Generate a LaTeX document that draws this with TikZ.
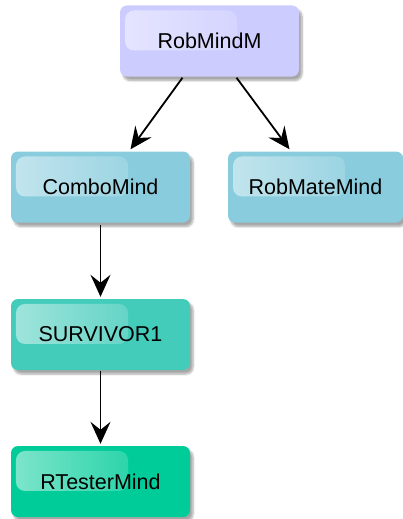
\documentclass[tikz,border=0pt]{standalone}
\usepackage{fontspec}
\setmainfont{Liberation Sans}
\usetikzlibrary{arrows.meta,shadows.blur,fadings}
\definecolor{lavender}{RGB}{204,204,255}
\definecolor{skyblue}{RGB}{136,204,221}
\definecolor{teal}{RGB}{68,204,187}
\definecolor{mint}{RGB}{0,204,153}
\tikzset{
  box/.style={rounded corners=7pt, minimum width=179pt, minimum height=71pt,
    inner sep=0pt, text=black, font=\fontsize{21.5}{25}\selectfont,
    blur shadow={shadow xshift=3pt, shadow yshift=-4pt, shadow blur steps=6, shadow opacity=35},
    path picture={\fill[white, fill opacity=0.5, rounded corners=9pt, path fading=east]
      ([xshift=5pt,yshift=-5pt]path picture bounding box.north west) rectangle ++(112pt,-40pt);}},
  link/.style={-{Stealth[length=22pt,width=20pt,inset=8pt]}, line width=1.8pt, black}
}
\begin{document}
\begin{tikzpicture}[x=1pt,y=-1pt]
\useasboundingbox (0,0) rectangle (403,519);
\node[box, fill=lavender] (rob) at (209.5,41) {RobMindM};
\node[box, fill=skyblue] (combo) at (100.5,187) {ComboMind};
\node[box, fill=skyblue, minimum width=175pt] (mate) at (315.5,187) {RobMateMind};
\node[box, fill=teal] (surv) at (100.5,334.5) {SURVIVOR1};
\node[box, fill=mint] (tester) at (100.5,481.5) {RTesterMind};
\draw[link] ([xshift=-27pt,yshift=-1pt]rob.south) -- ([xshift=30pt,yshift=2pt]combo.north);
\draw[link] ([xshift=27pt,yshift=-1pt]rob.south) -- ([xshift=-26pt,yshift=2pt]mate.north);
\draw[link] ([yshift=-2pt]combo.south) -- ([yshift=2pt]surv.north);
\draw[link] ([yshift=-1pt]surv.south) -- ([yshift=2pt]tester.north);
\end{tikzpicture}
\end{document}
